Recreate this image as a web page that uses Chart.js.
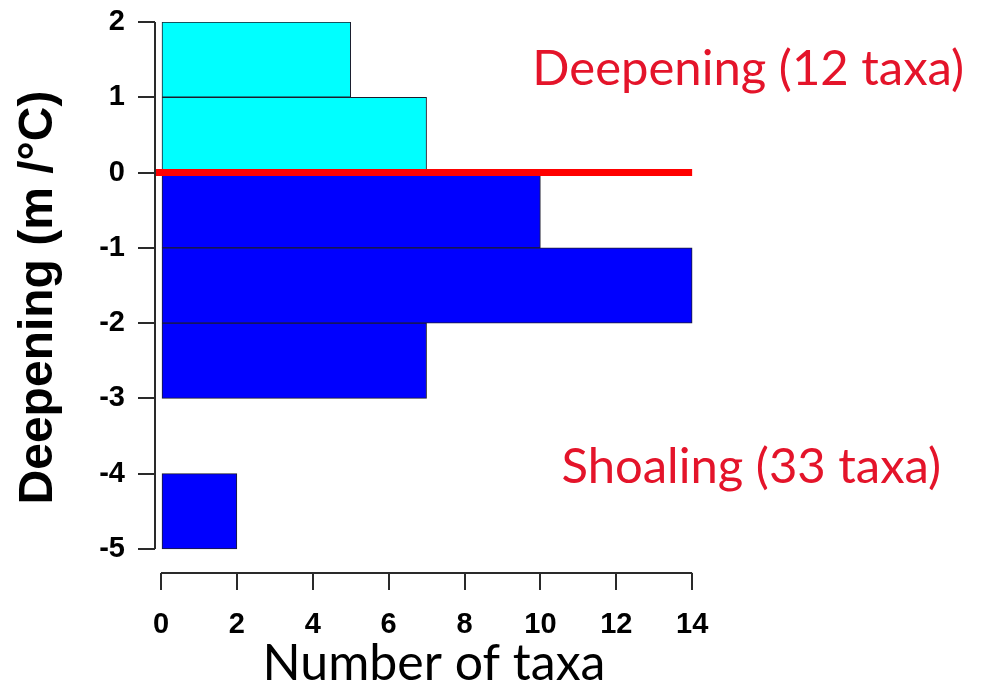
<!DOCTYPE html>
<html>
<head>
<meta charset="utf-8">
<script src="https://cdn.jsdelivr.net/npm/chart.js@4.4.1/dist/chart.umd.min.js"></script>
<style>
  html, body { margin: 0; padding: 0; background: #ffffff; }
  #wrap { width: 981px; height: 694px; }
</style>
</head>
<body>
<div id="wrap"><canvas id="c" width="981" height="694"></canvas></div>
<script>
// ---- data ----
const binCenters = [1.5, 0.5, -0.5, -1.5, -2.5, -3.5, -4.5];   // depth-shift bins (m / °C)
const taxaCounts = [5, 7, 10, 14, 7, 0, 2];                    // number of taxa per bin
const xTickValues = [0, 2, 4, 6, 8, 10, 12, 14];
const yTickValues = [2, 1, 0, -1, -2, -3, -4, -5];
const zeroLineEnd = 14;
const annotationTexts = ['Deepening (12 taxa)', 'Shoaling (33 taxa)'];
const xTitleText = 'Number of taxa';
const yTitleText = 'Deepening (m /°C)';

// ---- layout / style ----
const X_MIN = -0.158, X_MAX = 14.55, Y_MIN = -5.32, Y_MAX = 2;
const annotationAnchors = [{ x: 15.48, y: 1.163 }, { x: 15.56, y: -4.123 }];
const RED = 'rgb(228,20,42)';
const AXIS_COLOR = '#2a2a2a';

const barColors = binCenters.map(c => c > 0 ? '#00ffff' : '#0000ff');

const axisAndNotes = {
  id: 'axisAndNotes',
  afterDatasetsDraw(chart) {
    const { ctx, chartArea, scales: { x, y } } = chart;
    ctx.save();
    ctx.strokeStyle = AXIS_COLOR;
    ctx.lineWidth = 2;
    ctx.beginPath();
    ctx.moveTo(chartArea.left, y.getPixelForValue(yTickValues[0]));
    ctx.lineTo(chartArea.left, y.getPixelForValue(yTickValues[yTickValues.length - 1]));
    ctx.moveTo(x.getPixelForValue(xTickValues[0]), chartArea.bottom);
    ctx.lineTo(x.getPixelForValue(xTickValues[xTickValues.length - 1]), chartArea.bottom);
    ctx.stroke();

    ctx.fillStyle = RED;
    ctx.font = '49px Lato';
    ctx.textAlign = 'center';
    ctx.textBaseline = 'alphabetic';
    annotationTexts.forEach((t, i) => {
      const a = annotationAnchors[i];
      ctx.fillText(t, x.getPixelForValue(a.x), y.getPixelForValue(a.y));
    });
    ctx.restore();
  }
};

new Chart(document.getElementById('c'), {
  data: {
    datasets: [
      {
        type: 'line',
        data: [{ x: X_MIN, y: 0 }, { x: zeroLineEnd, y: 0 }],
        borderColor: '#ff0000',
        borderWidth: 7,
        pointRadius: 0,
        pointHoverRadius: 0,
        order: 0
      },
      {
        type: 'bar',
        data: binCenters.map((c, i) => ({ x: taxaCounts[i], y: c })),
        backgroundColor: barColors,
        borderColor: '#1c1c2c',
        borderWidth: 1,
        borderSkipped: false,
        barPercentage: 1,
        categoryPercentage: 1,
        order: 1
      }
    ]
  },
  options: {
    indexAxis: 'y',
    responsive: false,
    animation: false,
    devicePixelRatio: 1,
    layout: { autoPadding: false, padding: { top: 22, left: 0, right: 981 - 713, bottom: 0 } },
    plugins: { legend: { display: false }, tooltip: { enabled: false } },
    scales: {
      x: {
        type: 'linear',
        position: 'bottom',
        min: X_MIN,
        max: X_MAX,
        afterBuildTicks: s => { s.ticks = xTickValues.map(v => ({ value: v })); },
        afterFit: s => { s.height = 121; s.paddingLeft = 0; s.paddingRight = 0; },
        border: { display: false },
        grid: { drawOnChartArea: false, drawTicks: true, tickLength: 17, color: AXIS_COLOR, lineWidth: 2 },
        ticks: {
          padding: 18,
          color: '#000',
          font: { family: 'Liberation Sans', weight: 'bold', size: 29 },
          maxRotation: 0,
          autoSkip: false
        },
        title: {
          display: true,
          text: xTitleText,
          color: '#000',
          font: { family: 'Lato', size: 50 },
          padding: { top: 0, bottom: 0 }
        }
      },
      y: {
        type: 'linear',
        position: 'left',
        min: Y_MIN,
        max: Y_MAX,
        offset: false,
        afterBuildTicks: s => { s.ticks = yTickValues.map(v => ({ value: v })); },
        afterFit: s => { s.width = 155; s.paddingTop = 0; s.paddingBottom = 0; },
        border: { display: false },
        grid: { offset: false, drawOnChartArea: false, drawTicks: true, tickLength: 17, color: AXIS_COLOR, lineWidth: 2 },
        ticks: {
          padding: 13,
          color: '#000',
          font: { family: 'Liberation Sans', weight: 'bold', size: 29 },
          autoSkip: false
        },
        title: {
          display: true,
          text: yTitleText,
          color: '#000',
          font: { family: 'Liberation Sans', weight: 'bold', size: 48 },
          padding: { top: 10, bottom: 0 }
        }
      }
    }
  },
  plugins: [axisAndNotes]
});
</script>
</body>
</html>
